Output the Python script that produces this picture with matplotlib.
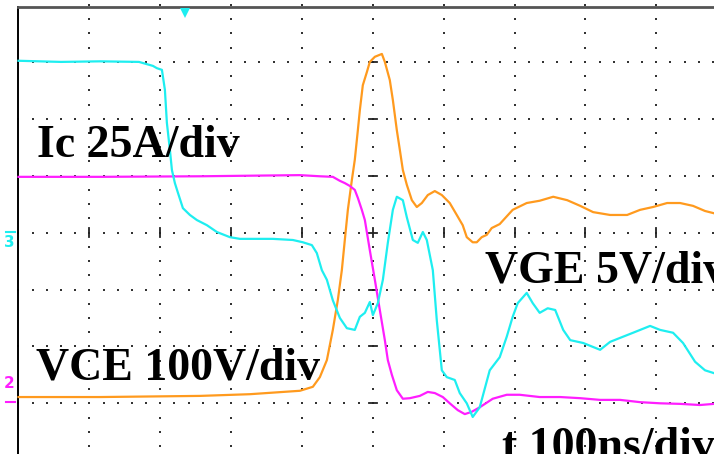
import numpy as np
import matplotlib
matplotlib.use("Agg")
import matplotlib.pyplot as plt

# time in ns, traces in screen divisions from the centre line
vge_t = [0, 60, 115, 170, 189.7, 195.3, 202.4, 206.6, 209.4, 213.7, 216.5, 220.7, 225.0,
         232.0, 241.9, 251.8, 265.9, 280.0, 298.3, 312.4, 359.0, 387.2, 401.3, 414.0,
         421.0, 428.1, 435.2, 443.6, 453.5, 463.4, 474.6, 481.7, 488.8, 495.8, 500.1,
         507.1, 514.2, 521.2, 528.3, 533.9, 542.4, 548.0, 556.5, 563.5, 570.6, 576.2,
         584.7, 590.3, 597.4, 604.4, 615.7, 622.7, 632.6, 641.0, 650.9, 665.0, 679.1,
         689.0, 697.4, 704.5, 717.2, 725.7, 735.5, 746.8, 757.4, 768.7, 778.6, 796.9,
         820.8, 834.9, 849.0, 867.3, 891.3, 905.4, 923.7, 937.8, 954.8, 968.8, 981.5]
vge_v = [3.02, 3.00, 3.01, 3.00, 2.93, 2.89, 2.86, 2.51, 1.93, 1.45, 1.10, 0.87, 0.70,
         0.43, 0.31, 0.22, 0.13, 0.01, -0.08, -0.11, -0.11, -0.13, -0.17, -0.22,
         -0.36, -0.66, -0.83, -1.19, -1.50, -1.68, -1.71, -1.48, -1.41, -1.22, -1.45,
         -1.24, -0.83, -0.18, 0.40, 0.63, 0.57, 0.27, -0.13, -0.18, 0.01, -0.13,
         -0.66, -1.54, -2.42, -2.54, -2.59, -2.82, -3.00, -3.24, -3.07, -2.42, -2.19,
         -1.83, -1.48, -1.24, -1.06, -1.24, -1.41, -1.33, -1.36, -1.71, -1.89, -1.94,
         -2.06, -1.92, -1.85, -1.76, -1.64, -1.71, -1.76, -1.94, -2.27, -2.42, -2.47]

vce_t = [0, 115, 256, 326.5, 397.1, 415.4, 425.3, 435.2, 443.6, 450.7, 456.3, 460.5,
         464.8, 470.4, 474.6, 478.9, 481.7, 485.9, 491.6, 495.8, 502.9, 512.8, 517.0,
         524.0, 528.3, 533.9, 538.2, 542.4, 548.0, 555.1, 562.1, 569.2, 577.6, 587.5,
         597.4, 608.6, 618.5, 626.9, 632.6, 641.0, 646.7, 653.7, 660.8, 667.8, 679.1,
         697.4, 717.2, 735.5, 754.6, 774.3, 792.7, 810.9, 834.9, 858.9, 877.2, 895.5,
         915.3, 933.6, 951.9, 968.8, 981.5]
vce_v = [-2.89, -2.89, -2.87, -2.84, -2.78, -2.71, -2.54, -2.24, -1.71, -1.18, -0.66, -0.13,
         0.40, 0.92, 1.28, 1.80, 2.15, 2.59, 2.82, 3.00, 3.09, 3.14, 3.00,
         2.68, 2.33, 1.80, 1.45, 1.10, 0.84, 0.57, 0.45, 0.52, 0.66, 0.73,
         0.66, 0.52, 0.31, 0.13, -0.08, -0.17, -0.17, -0.08, -0.04, 0.08, 0.15,
         0.40, 0.52, 0.56, 0.63, 0.57, 0.47, 0.36, 0.31, 0.31, 0.40, 0.45,
         0.52, 0.52, 0.47, 0.38, 0.34]

ic_t = [0, 115, 256, 397.1, 425.3, 443.6, 453.5, 460.5, 467.6, 474.6, 478.9, 484.5,
        488.8, 495.8, 502.9, 509.9, 517.0, 521.2, 526.9, 533.9, 542.4, 552.3, 566.3,
        577.6, 587.5, 598.8, 608.6, 619.9, 629.8, 639.6, 650.9, 669.2, 689.0, 707.3,
        735.5, 764.5, 792.7, 820.8, 849.0, 877.2, 905.4, 933.6, 961.8, 981.5]
ic_v = [0.98, 0.98, 0.99, 1.01, 0.99, 0.98, 0.91, 0.87, 0.82, 0.75, 0.61, 0.40,
        0.22, -0.31, -0.83, -1.36, -1.89, -2.24, -2.50, -2.77, -2.92, -2.91, -2.87,
        -2.80, -2.82, -2.89, -3.00, -3.12, -3.19, -3.15, -3.07, -2.92, -2.85, -2.85,
        -2.89, -2.89, -2.91, -2.94, -2.94, -2.98, -3.00, -3.01, -3.03, -3.01]

labels = ["Ic 25A/div", "VCE 100V/div", "VGE 5V/div", "t 100ns/div"]
label_pos = [(26, 1.33), (25, -2.59), (658, -0.87), (683, -3.98)]

CYAN = "#1EEEF0"
ORANGE = "#FF9A1E"
MAGENTA = "#FF1EFF"
DOT = "#333333"

fig = plt.figure(figsize=(7.14, 4.54), dpi=100)
ax = fig.add_axes([0, 0, 1, 1])
ax.set_xlim(-26.1, 981.5)
ax.set_ylim(-3.891, 4.088)
ax.axis("off")

# graticule dots
xs = np.arange(0, 1000, 20)
for yv in range(-3, 4):
    ax.plot(xs, np.full_like(xs, yv, dtype=float), ls="none", marker="s",
            ms=1.5, color=DOT, mew=0)
ys = np.arange(-4, 4.01, 0.25)
for xv in range(100, 1000, 100):
    ax.plot(np.full_like(ys, xv), ys, ls="none", marker="s", ms=1.5, color=DOT, mew=0)

# centre-line ticks
for yv in [-3, -2, -1, 1, 2, 3]:
    ax.plot([494, 506], [yv, yv], color="#222222", lw=1.3)
for xv in range(100, 1000, 100):
    ax.plot([xv, xv], [-0.08, 0.08], color="#222222", lw=1.3)
ax.plot([494, 506], [0, 0], color="#222222", lw=1.3)

# frame
ax.plot([0, 0], [-4, 3.965], color="black", lw=1.4)
ax.plot([0, 990], [3.965, 3.965], color="#555555", lw=2.0)

# traces
ax.plot(vce_t, vce_v, color=ORANGE, lw=1.6, zorder=3)
ax.plot(ic_t, ic_v, color=MAGENTA, lw=1.6, zorder=4)
ax.plot(vge_t, vge_v, color=CYAN, lw=1.6, zorder=5)

# channel markers
ax.plot([235], [3.86], marker="v", ms=7, color=CYAN, mew=0)
ax.plot([-17.6, -4.9], [0.01, 0.01], color=CYAN, lw=1.5)
ax.text(-12.7, -0.17, "3", color=CYAN, fontsize=11, fontweight="bold",
        ha="center", va="center")
ax.plot([-17.6, -4.9], [-2.98, -2.98], color=MAGENTA, lw=1.5)
ax.text(-12.7, -2.66, "2", color=MAGENTA, fontsize=11, fontweight="bold",
        ha="center", va="center")

for s, (x, y) in zip(labels, label_pos):
    ax.text(x, y, s, fontfamily="Liberation Serif", fontweight="bold", fontsize=33,
            color="black", ha="left", va="baseline", zorder=6)

fig.savefig("out.png", dpi=100, facecolor="white")
